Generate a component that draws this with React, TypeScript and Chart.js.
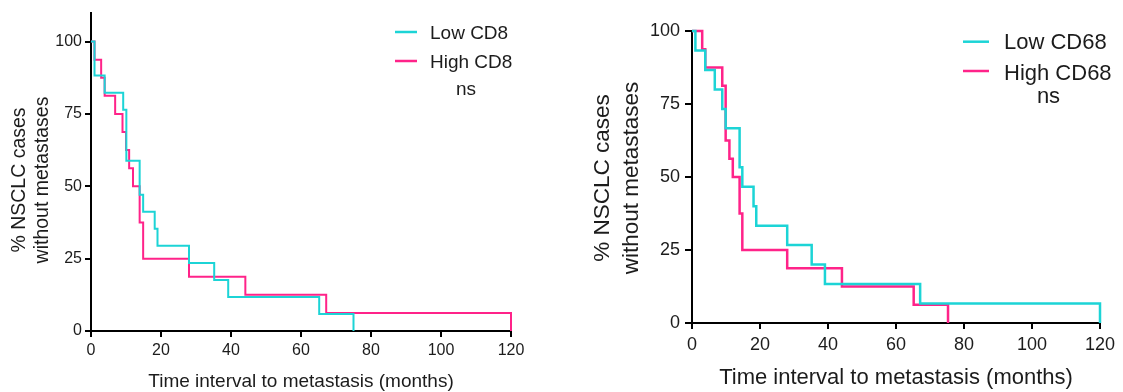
import React, { useEffect, useRef } from 'react';
import { Chart, registerables } from 'chart.js';

Chart.register(...registerables);

// ---------- data ----------
const monthTicks = [0, 20, 40, 60, 80, 100, 120];
const percentTicks = [0, 25, 50, 75, 100];

const cd8LowMonths = [0, 1, 3.9, 9.2, 10.1, 13.9, 14.9, 18.2, 19, 28, 35.2, 39.2, 65.2, 75];
const cd8LowSurvival = [100, 88.24, 82.35, 76.47, 58.82, 47.06, 41.18, 35.29, 29.41, 23.53, 17.65, 11.76, 5.88, 0];
const cd8HighMonths = [0, 1, 2.9, 3.9, 6.9, 9, 10, 10.9, 12, 13.9, 14.9, 28, 44.1, 67.2, 120];
const cd8HighSurvival = [100, 93.75, 87.5, 81.25, 75, 68.75, 62.5, 56.25, 50, 37.5, 25, 18.75, 12.5, 6.25, 0];

const cd68LowMonths = [0, 1, 3.9, 6.7, 8.9, 9.9, 14, 14.8, 18.1, 18.9, 28, 35.2, 39.1, 67.1, 120];
const cd68LowSurvival = [100, 93.33, 86.67, 80, 73.33, 66.67, 53.33, 46.67, 40, 33.33, 26.67, 20, 13.33, 6.67, 0];
const cd68HighMonths = [0, 3, 3.9, 8.9, 9.9, 11, 12, 14, 14.8, 28, 44.1, 65.2, 75.3];
const cd68HighSurvival = [100, 93.75, 87.5, 81.25, 62.5, 56.25, 50, 37.5, 25, 18.75, 12.5, 6.25, 0];

const xTitle = 'Time interval to metastasis (months)';
const yTitleLines = ['% NSCLC cases', 'without metastases'];
const cd8Labels = ['Low CD8', 'High CD8'];
const cd68Labels = ['Low CD68', 'High CD68'];
const sigLabel = 'ns';

const LOW_COLOR = '#1cd4d6';
const HIGH_COLOR = '#ff2389';
const TEXT_COLOR = '#1c1c1c';
const FONT = '"Liberation Sans", Arial, Helvetica, sans-serif';

// ---------- annotation plugin (titles + legend) ----------
const kmAnnotations = {
  id: 'kmAnnotations',
  afterDraw(chart: any, _args: any, o: any) {
    const ctx = chart.ctx as CanvasRenderingContext2D;
    const area = chart.chartArea;
    ctx.save();
    ctx.fillStyle = TEXT_COLOR;
    // x title
    ctx.font = `${o.xTitleSize}px ${FONT}`;
    ctx.textAlign = 'center';
    ctx.textBaseline = 'alphabetic';
    ctx.fillText(o.xTitle, (area.left + area.right) / 2, o.xTitleBaseline);
    // y title (rotated)
    ctx.font = `${o.yTitleSize}px ${FONT}`;
    o.yTitleLines.forEach((line: string, i: number) => {
      ctx.save();
      ctx.translate(o.yTitleBaselines[i], o.yTitleCenter);
      ctx.rotate(-Math.PI / 2);
      ctx.textAlign = 'center';
      ctx.textBaseline = 'alphabetic';
      ctx.fillText(line, 0, 0);
      ctx.restore();
    });
    // legend
    ctx.font = `${o.legendSize}px ${FONT}`;
    ctx.textAlign = 'left';
    o.legendLabels.forEach((label: string, i: number) => {
      ctx.strokeStyle = o.legendColors[i];
      ctx.lineWidth = o.legendLineWidth;
      ctx.beginPath();
      ctx.moveTo(o.legendLineX0, o.legendLineYs[i]);
      ctx.lineTo(o.legendLineX1, o.legendLineYs[i]);
      ctx.stroke();
      ctx.fillStyle = TEXT_COLOR;
      ctx.fillText(label, o.legendTextX, o.legendBaselines[i]);
    });
    ctx.textAlign = 'center';
    ctx.fillText(o.sig, o.sigX, o.sigBaseline);
    ctx.restore();
  },
};

function makeData(months: number[], surv: number[]) {
  return months.map((m, i) => ({ x: m, y: surv[i] }));
}

interface PanelSpec {
  width: number;
  height: number;
  areaLeft: number;
  areaRight: number;
  areaTop: number;
  areaBottom: number;
  yMax: number;
  tickSize: number;
  yTickLen: number;
  yTickPad: number;
  xTickLen: number;
  xTickPad: number;
  lineWidth: number;
  low: { x: number; y: number }[];
  high: { x: number; y: number }[];
  labels: string[];
  ann: any;
}

function buildConfig(s: PanelSpec): any {
  const axisCommon = {
    border: { display: true, color: '#000', width: 2 },
    ticks: {
      color: TEXT_COLOR,
      font: { family: FONT, size: s.tickSize },
      autoSkip: false,
      maxRotation: 0,
      minRotation: 0,
      includeBounds: false,
    },
  };
  return {
    type: 'line',
    data: {
      datasets: [
        {
          label: s.labels[0],
          data: s.low,
          borderColor: LOW_COLOR,
          backgroundColor: LOW_COLOR,
          borderWidth: s.lineWidth,
          stepped: true,
          pointRadius: 0,
          fill: false,
          clip: false,
        },
        {
          label: s.labels[1],
          data: s.high,
          borderColor: HIGH_COLOR,
          backgroundColor: HIGH_COLOR,
          borderWidth: s.lineWidth,
          stepped: true,
          pointRadius: 0,
          fill: false,
          clip: false,
        },
      ],
    },
    options: {
      animation: false,
      responsive: false,
      devicePixelRatio: 1,
      events: [],
      layout: {
        padding: { left: 0, right: s.width - s.areaRight, top: s.areaTop, bottom: 0 },
      },
      plugins: {
        legend: { display: false },
        tooltip: { enabled: false },
        title: { display: false },
        kmAnnotations: s.ann,
      },
      scales: {
        x: {
          type: 'linear',
          min: 0,
          max: 120,
          ...axisCommon,
          ticks: { ...axisCommon.ticks, padding: s.xTickPad },
          grid: {
            display: true,
            drawOnChartArea: false,
            drawTicks: true,
            tickLength: s.xTickLen,
            color: '#000',
            lineWidth: 2,
          },
          afterBuildTicks: (scale: any) => {
            scale.ticks = monthTicks.map((v) => ({ value: v }));
          },
          afterFit: (scale: any) => {
            scale.height = s.height - s.areaBottom;
          },
        },
        y: {
          type: 'linear',
          min: 0,
          max: s.yMax,
          ...axisCommon,
          ticks: { ...axisCommon.ticks, padding: s.yTickPad },
          grid: {
            display: true,
            drawOnChartArea: false,
            drawTicks: true,
            tickLength: s.yTickLen,
            color: '#000',
            lineWidth: 2,
          },
          afterBuildTicks: (scale: any) => {
            scale.ticks = percentTicks.map((v) => ({ value: v }));
          },
          afterFit: (scale: any) => {
            scale.width = s.areaLeft;
          },
        },
      },
    },
    plugins: [kmAnnotations],
  };
}

const leftSpec: PanelSpec = {
  width: 560,
  height: 392,
  areaLeft: 91,
  areaRight: 511,
  areaTop: 12,
  areaBottom: 331,
  yMax: 110,
  tickSize: 16,
  yTickLen: 6,
  yTickPad: 3,
  xTickLen: 6,
  xTickPad: 4,
  lineWidth: 2,
  low: makeData(cd8LowMonths, cd8LowSurvival),
  high: makeData(cd8HighMonths, cd8HighSurvival),
  labels: cd8Labels,
  ann: {
    xTitle,
    xTitleSize: 19,
    xTitleBaseline: 386.5,
    yTitleLines,
    yTitleSize: 19.5,
    yTitleBaselines: [25, 48],
    yTitleCenter: 180,
    legendLabels: cd8Labels,
    legendColors: [LOW_COLOR, HIGH_COLOR],
    legendSize: 19,
    legendLineWidth: 2.5,
    legendLineX0: 395,
    legendLineX1: 417,
    legendLineYs: [32, 61],
    legendTextX: 430,
    legendBaselines: [39.3, 68.3],
    sig: sigLabel,
    sigX: 466,
    sigBaseline: 95,
  },
};

const rightSpec: PanelSpec = {
  width: 563,
  height: 392,
  areaLeft: 132,
  areaRight: 540,
  areaTop: 31,
  areaBottom: 323,
  yMax: 100,
  tickSize: 18,
  yTickLen: 7,
  yTickPad: 5,
  xTickLen: 6,
  xTickPad: 5,
  lineWidth: 2.5,
  low: makeData(cd68LowMonths, cd68LowSurvival),
  high: makeData(cd68HighMonths, cd68HighSurvival),
  labels: cd68Labels,
  ann: {
    xTitle,
    xTitleSize: 22,
    xTitleBaseline: 384,
    yTitleLines,
    yTitleSize: 22.5,
    yTitleBaselines: [49.3, 78],
    yTitleCenter: 178,
    legendLabels: cd68Labels,
    legendColors: [LOW_COLOR, HIGH_COLOR],
    legendSize: 22,
    legendLineWidth: 2.5,
    legendLineX0: 403,
    legendLineX1: 429,
    legendLineYs: [41.7, 71],
    legendTextX: 444,
    legendBaselines: [49.3, 80],
    sig: sigLabel,
    sigX: 488.5,
    sigBaseline: 103.3,
  },
};

function Panel({ spec, left }: { spec: PanelSpec; left: number }) {
  const ref = useRef<HTMLCanvasElement | null>(null);
  useEffect(() => {
    if (!ref.current) return;
    const chart = new Chart(ref.current, buildConfig(spec));
    return () => chart.destroy();
  }, [spec]);
  return (
    <canvas
      ref={ref}
      width={spec.width}
      height={spec.height}
      style={{ position: 'absolute', left, top: 0, width: spec.width, height: spec.height }}
    />
  );
}

export default function App() {
  return (
    <div
      style={{
        position: 'absolute',
        left: 0,
        top: 0,
        width: 1123,
        height: 392,
        background: '#fff',
        overflow: 'hidden',
      }}
    >
      <Panel spec={leftSpec} left={0} />
      <Panel spec={rightSpec} left={560} />
    </div>
  );
}
